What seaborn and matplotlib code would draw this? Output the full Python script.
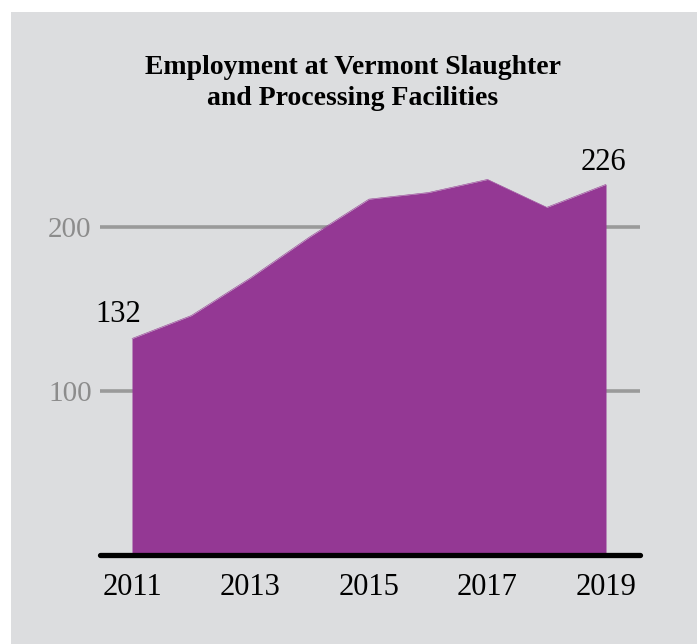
import matplotlib
matplotlib.use("Agg")
import matplotlib.pyplot as plt
import seaborn as sns
from matplotlib.patches import Rectangle

years = [2011, 2012, 2013, 2014, 2015, 2016, 2017, 2018, 2019]
employment = [132, 146, 169, 194, 217, 221, 229, 212, 226]
x_ticks = [2011, 2013, 2015, 2017, 2019]
y_ticks = [100, 200]
title_lines = ["Employment at Vermont Slaughter", "and Processing Facilities"]

purple = "#943894"
panel = "#dcdddf"
grid_gray = "#9a9a9a"
label_gray = "#8c8c8c"

sns.set_theme(style="white")
plt.rcParams["font.family"] = ["Liberation Serif", "DejaVu Serif"]

W, H = 697, 644
fig = plt.figure(figsize=(W / 100, H / 100), dpi=100, facecolor="white")
fig.patches.append(Rectangle((11 / W, 0), 1, (H - 12) / H, transform=fig.transFigure,
                             facecolor=panel, edgecolor="none", zorder=-10))

# axes placed so that 0 sits at y=555px and 100 units = 164px
ax = fig.add_axes([100 / W, (H - 555) / H, 540 / W, 455 / H])
ax.set_facecolor("none")
ax.set_zorder(1)
ax.set_xlim(2011 - 32 / 59.25, 2019 + 34 / 59.25)
ax.set_ylim(0, 455 / 1.64)

for t in y_ticks:
    ax.axhline(t, color=grid_gray, lw=2.6, zorder=1)

ax.fill_between(years, employment, 0, color=purple, lw=0, zorder=2)
sns.lineplot(x=years, y=employment, color=purple, lw=0.4, ax=ax, zorder=3)
ax.axhline(0, color="black", lw=3.8, zorder=4, clip_on=False)

ax.set_xticks(x_ticks)
ax.set_xticklabels([str(t) for t in x_ticks], fontsize=22, color="black")
ax.set_yticks(y_ticks)
ax.set_yticklabels([str(t) for t in y_ticks], fontsize=21, color=label_gray)
ax.tick_params(axis="x", length=0, pad=13)
ax.tick_params(axis="y", length=0, pad=6)
for s in ax.spines.values():
    s.set_visible(False)
ax.set_xlabel("")
ax.set_ylabel("")

ax.annotate(str(employment[0]), xy=(years[0], employment[0]), xytext=(-10, 12),
            textcoords="offset points", ha="center", va="baseline", fontsize=22, color="black")
ax.annotate(str(employment[-1]), xy=(years[-1], employment[-1]), xytext=(-2, 10.5),
            textcoords="offset points", ha="center", va="baseline", fontsize=22, color="black")

fig.text(353 / W, 1 - 74 / H, title_lines[0], ha="center", va="baseline",
         fontsize=20, fontweight="bold", color="black")
fig.text(353 / W, 1 - 105 / H, title_lines[1], ha="center", va="baseline",
         fontsize=20, fontweight="bold", color="black")

fig.savefig("out.png", dpi=100, facecolor="white")
